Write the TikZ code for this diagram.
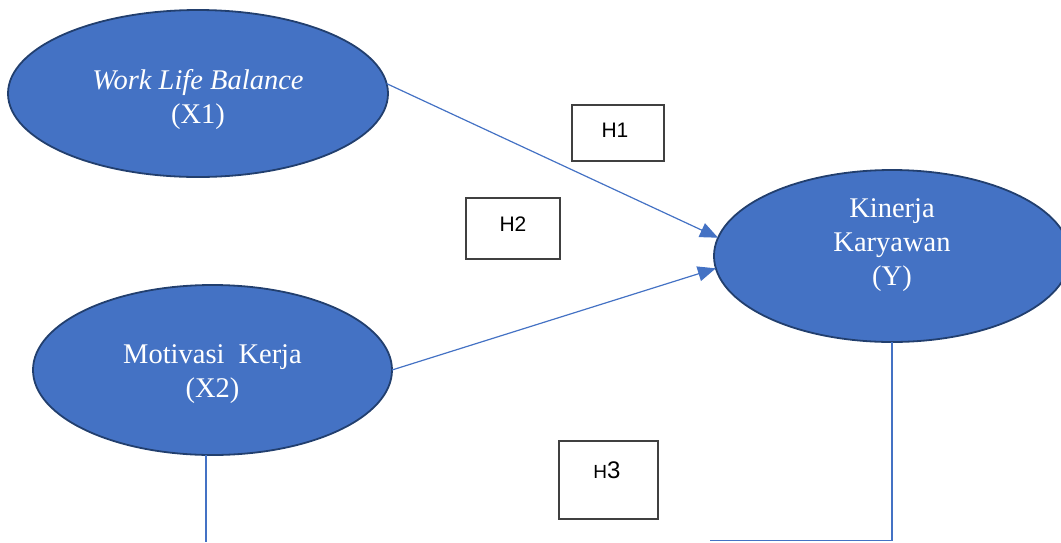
\documentclass[tikz,border=0pt]{standalone}
\usepackage{fontspec}
\setmainfont{Liberation Serif}
\newfontfamily\arialfont{Liberation Sans}
\usetikzlibrary{arrows.meta,shapes.geometric}
\definecolor{officeblue}{HTML}{4472C4}
\definecolor{navyline}{HTML}{223F6E}
\definecolor{boxline}{HTML}{404040}
\tikzset{
  latent/.style={ellipse, draw=navyline, line width=1.8pt, fill=officeblue, outer sep=0pt, inner sep=0pt},
  etext/.style={text=white, align=center, font=\fontsize{28.5}{34}\selectfont, inner sep=0pt},
  hbox/.style={rectangle, draw=boxline, line width=1.4pt, fill=white, inner sep=0pt, outer sep=0pt},
  hlabel/.style={font=\arialfont\fontsize{21}{21}\selectfont, text=black, inner sep=0pt},
  path/.style={draw=officeblue, line width=1.2pt},
  arr/.style={path, -{Triangle[length=18pt, width=15pt]}}
}
\begin{document}
\begin{tikzpicture}[x=1pt, y=-1pt]
\useasboundingbox (0,0) rectangle (1061,542);

\node[latent, minimum width=380pt, minimum height=167pt,
  label={[etext, yshift=-5.5pt]center:{\itshape Work Life Balance\\(X1)}}] (x1) at (198,93.5) {};
\node[latent, minimum width=359pt, minimum height=170pt,
  label={[etext, yshift=-4.5pt]center:{Motivasi\hspace{14pt}Kerja\\(X2)}}] (x2) at (212.5,370) {};
\node[latent, minimum width=356pt, minimum height=172pt,
  label={[etext, yshift=10.5pt]center:{Kinerja\\Karyawan\\(Y)}}] (y) at (892,256) {};

\node[hbox, minimum width=92pt, minimum height=56pt,
  label={[hlabel, xshift=-3pt, yshift=3pt]center:H1}] (h1) at (618,133) {};
\node[hbox, minimum width=94pt, minimum height=61pt,
  label={[hlabel, yshift=4.5pt]center:H2}] (h2) at (513,228.5) {};
\node[hbox, minimum width=99pt, minimum height=78pt,
  label={[hlabel, xshift=-1.5pt, yshift=9.5pt]center:{\fontsize{19}{19}\selectfont H\fontsize{24}{24}\selectfont 3}}] (h3) at (608.5,480) {};

\draw[arr] (x1.3.5) -- (y.174.8);
\draw[arr] (x2.-0.6) -- (y.184.3);

\coordinate (b1) at (206,542);
\draw[path] (x2.south -| b1) -- (b1);
\coordinate (b2) at (710,540.5);
\draw[path] (y.south) -- (y.south |- b2) -- (b2);
\end{tikzpicture}
\end{document}
